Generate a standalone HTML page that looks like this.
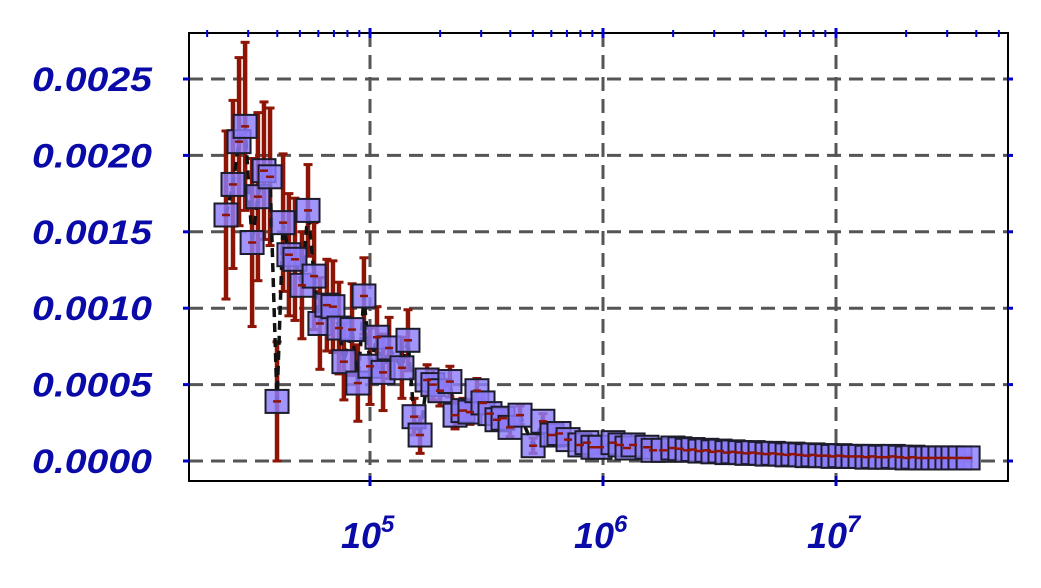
<!DOCTYPE html>
<html><head><meta charset="utf-8"><style>
html,body{margin:0;padding:0;background:#fff;}
svg{display:block;}
text{font-family:"Liberation Sans",sans-serif;font-weight:bold;font-style:italic;fill:#0a0aa8;}
</style></head><body>
<svg id="chart" width="1041" height="588" viewBox="0 0 1041 588" xmlns="http://www.w3.org/2000/svg"></svg>
<script>
// data: log10(x) positions, values (in units of 1e-4), error half-widths (1e-4)
const logX = [4.382,4.412,4.438,4.464,4.494,4.519,4.545,4.571,4.601,4.627,4.652,4.678,4.708,4.734,4.760,4.785,4.815,4.841,4.867,4.888,4.923,4.948,4.974,5.000,5.030,5.056,5.082,5.137,5.163,5.189,5.215,
5.245,5.270,5.300,5.343,5.365,5.399,5.429,5.459,5.485,5.515,5.545,5.571,5.601,5.644,5.700,5.742,5.781,5.811,5.850,5.901,5.931,5.957,5.987,6.043,6.073,6.103,6.129,6.189,6.215,6.258,6.300,
6.330,6.361,6.386,6.416,6.446,6.472,6.502,6.532,6.558,6.588,6.618,6.644,6.674,6.704,6.730,6.760,6.790,6.815,6.845,6.876,6.901,6.931,6.961,6.987,7.017,7.047,7.073,7.103,7.133,7.159,7.189,7.219,7.245,7.275,7.305,7.330,7.361,7.391,7.416,7.446,7.476,7.502,7.532,7.567];
const values = [16.1,18.1,20.9,21.9,14.3,17.3,19.0,18.6,3.9,15.6,13.5,13.2,11.5,16.4,12.1,9.0,10.2,10.1,8.7,6.5,8.6,5.1,10.8,6.2,8.1,5.8,7.4,6.1,7.9,2.9,1.7,
5.3,5.0,4.6,5.2,3.0,3.3,3.2,4.6,3.8,3.1,2.7,2.8,2.2,3.0,1.0,2.6,1.7,1.8,1.4,1.05,1.2,0.9,0.9,1.2,1.05,0.85,1.05,0.9,0.7,0.7,0.85,
0.8,0.7,0.75,0.65,0.7,0.6,0.65,0.55,0.6,0.55,0.5,0.55,0.5,0.45,0.5,0.45,0.4,0.45,0.4,0.35,0.4,0.35,0.35,0.3,0.35,0.3,0.3,0.3,0.25,0.3,0.25,0.25,0.3,0.25,0.2,0.25,0.2,0.2,0.2,0.2,0.2,0.2,0.2,0.2];
const errors = [5.5,5.5,5.5,5.5,5.5,5.5,4.5,4.5,3.9,4.5,4,4,3.5,3,3.5,3,3,3,3,2.5,3,2.5,2.5,2.5,2,2.5,2,2,2,1.2,1.2,
1.0,1.0,1.0,1.0,0.9,0.8,0.8,0.8,0.7,0.7,0.7,0.6,0.6,0.6,0.5,0.5,0.5,0.5,0.4,0.4,0.4,0.4,0.35,0.35,0.35,0.3,0.3,0.3,0.3,0.3,0.25,
0.25,0.25,0.25,0.2,0.2,0.2,0.2,0.2,0.2,0.2,0.2,0.2,0.15,0.15,0.15,0.15,0.15,0.15,0.15,0.15,0.15,0.12,0.12,0.12,0.12,0.12,0.12,0.12,0.1,0.1,0.1,0.1,0.1,0.1,0.1,0.1,0.1,0.1,0.1,0.1,0.1,0.1,0.1,0.1];
const yTicks = [0,5,10,15,20,25];
const yTickLabels = ["0.0000","0.0005","0.0010","0.0015","0.0020","0.0025"];
const xDecades = [5,6,7];

const L=189,R=1008,T=33,B=481;
function sx(lx){return 370+(lx-5)*233;}
function sy(v){return 461-v*76.4/5;}
const NS="http://www.w3.org/2000/svg";
const svg=document.getElementById('chart');
function el(tag,attrs,parent){const e=document.createElementNS(NS,tag);for(const k in attrs)e.setAttribute(k,attrs[k]);(parent||svg).appendChild(e);return e;}

// grid
const grid=el('g',{});


yTicks.forEach(v=>{el('line',{x1:L,x2:R,y1:sy(v),y2:sy(v),stroke:'#555',"stroke-width":3,"stroke-dasharray":"14,8"},grid);});
xDecades.forEach(d=>{el('line',{x1:sx(d),x2:sx(d),y1:T,y2:B,stroke:'#555',"stroke-width":3,"stroke-dasharray":"14,8"},grid);});

// error bars
const eg=el('g',{});


logX.forEach((lx,i)=>{
  const e=errors[i]||0;
  const x=sx(lx),y1=sy(values[i]+e),y2=sy(Math.max(0,values[i]-e));
  el('line',{x1:x,x2:x,y1:y1,y2:y2,stroke:'#8e1505',"stroke-width":4.5},eg);
  el('line',{x1:x-4.5,x2:x+4.5,y1:y1,y2:y1,stroke:'#8e1505',"stroke-width":3},eg);
  el('line',{x1:x-4.5,x2:x+4.5,y1:y2,y2:y2,stroke:'#8e1505',"stroke-width":3},eg);
});
// dashed line
let d='';
logX.forEach((lx,i)=>{d+=(i?'L':'M')+sx(lx).toFixed(1)+','+sy(values[i]).toFixed(1);});
const ln=el('path',{d:d,fill:'none',stroke:'#111',"stroke-width":3.5,"stroke-dasharray":"9,6"});


// markers
const mg=el('g',{});


logX.forEach((lx,i)=>{
  const r=el('rect',{x:sx(lx)-11.5,y:sy(values[i])-11.5,width:23,height:23,fill:'rgba(140,125,250,0.82)',stroke:'#1c1c2a',"stroke-width":2},mg);
  
  
});
// mean marks
logX.forEach((lx,i)=>{el('line',{x1:sx(lx)-4,x2:sx(lx)+4,y1:sy(values[i]),y2:sy(values[i]),stroke:'#8e1505',"stroke-width":2.5},mg);});

// frame
const fr=el('rect',{x:L,y:T,width:R-L,height:B-T,fill:'none',stroke:'#000',"stroke-width":2});



// y ticks and labels
const ya=el('g',{});


yTicks.forEach((v,i)=>{
  el('line',{x1:L-6,x2:L,y1:sy(v),y2:sy(v),stroke:'#0000c0',"stroke-width":3},ya);
  el('line',{x1:R,x2:R+5,y1:sy(v),y2:sy(v),stroke:'#0000c0',"stroke-width":3},ya);
  const t=el('text',{x:32,y:sy(v)+12,"font-size":34,textLength:120,lengthAdjust:"spacingAndGlyphs"},ya);
  t.textContent=yTickLabels[i];
  
  
});
// x ticks
const xa=el('g',{});


for(let dec=4;dec<=7;dec++){for(let m=1;m<10;m++){
  const lx=dec+Math.log10(m);const x=sx(lx);if(x<L||x>R)continue;
  const major=m===1;
  el('line',{x1:x,x2:x,y1:T-(major?5:3),y2:T+(major?5:4),stroke:'#0000e0',"stroke-width":major?3:2},xa);
  if(major) el('line',{x1:x,x2:x,y1:B-5,y2:B+5,stroke:'#0000c0',"stroke-width":3},xa);
}}
xDecades.forEach(dd=>{
  const t=el('text',{x:sx(dd)-29,y:548,"font-size":36},xa);
  t.textContent='10';
  const s=el('tspan',{dy:-16,"font-size":24},t);
  s.textContent=String(dd);
  
  
});
</script>
</body></html>
